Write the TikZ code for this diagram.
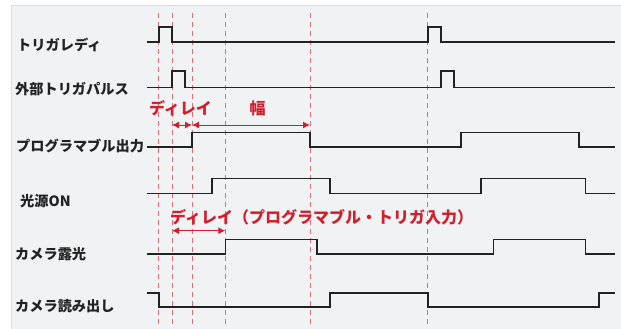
\documentclass[tikz,border=0pt]{standalone}
\usepackage{fontspec}
\newfontfamily\jpfont{Noto Sans CJK JP}
\usetikzlibrary{arrows.meta}
\definecolor{panelgray}{HTML}{F1F2F4}
\definecolor{framegray}{HTML}{DCDDE0}
\definecolor{markred}{HTML}{D11F2E}
\definecolor{dashred}{HTML}{E06C78}
\definecolor{sigblack}{HTML}{222222}
\tikzset{
  siglabel/.style={anchor=west,inner sep=0pt,text=sigblack,font=\jpfont\bfseries\fontsize{14.2}{16}\selectfont},
  redlabel/.style={inner sep=0pt,text=markred,font=\jpfont\bfseries\fontsize{16}{18}\selectfont},
  signal/.style={draw=sigblack,line width=1.6pt,line join=miter},
  timeline/.style={draw=dashred,line width=1pt,dash pattern=on 5pt off 4pt},
  span/.style={draw=markred,line width=1pt,{Latex[length=7pt,width=7pt]}-{Latex[length=7pt,width=7pt]}}
}

\begin{document}
\begin{tikzpicture}[x=1pt,y=-1pt]
\useasboundingbox (0,0) rectangle (621,329);
\fill[white] (0,0) rectangle (621,329);
\filldraw[fill=panelgray,draw=framegray,line width=1pt] (11,6) -- (11,340) -- (630,340) -- (630,6) -- cycle;

% time marks
\foreach \tx in {158.7,172,192,225.3,310,427.7}
  \draw[timeline] (\tx,13) -- (\tx,326);

% labels
\node[siglabel] (ready) at (17,45) {トリガレディ};
\node[siglabel] (extpulse) at (15,89.5) {外部トリガパルス};
\node[siglabel] (progout) at (16,146) {プログラマブル出力};
\node[siglabel] (lighton) at (20,201.5) {光源ON};
\node[siglabel] (expose) at (15,254) {カメラ露光};
\node[siglabel] (readout) at (15,306) {カメラ読み出し};

% signals
\draw[signal] (146.7,42) -- (158.7,42) -- (158.7,27.3) -- (172,27.3) -- (172,42) -- (427.7,42) -- (427.7,27.3) -- (441,27.3) -- (441,42) -- (615,42);
\draw[signal] (146.7,87.3) -- (172,87.3) -- (172,71.3) -- (185,71.3) -- (185,87.3) -- (441,87.3) -- (441,71.3) -- (454,71.3) -- (454,87.3) -- (615,87.3);
\draw[signal] (146.7,146.7) -- (192,146.7) -- (192,132.3) -- (310,132.3) -- (310,146.7) -- (460.7,146.7) -- (460.7,132.3) -- (578.7,132.3) -- (578.7,146.7) -- (615,146.7);
\draw[signal] (146.7,193.3) -- (211.7,193.3) -- (211.7,178.3) -- (330,178.3) -- (330,193.3) -- (480.7,193.3) -- (480.7,178.3) -- (585.3,178.3) -- (585.3,193.3) -- (615,193.3);
\draw[signal] (146.7,254) -- (225.3,254) -- (225.3,239.3) -- (316.7,239.3) -- (316.7,254) -- (493.3,254) -- (493.3,239.3) -- (585.3,239.3) -- (585.3,254) -- (615,254);
\draw[signal] (146.7,292.7) -- (158.7,292.7) -- (158.7,306.7) -- (330,306.7) -- (330,292.7) -- (427.7,292.7) -- (427.7,306.7) -- (598.7,306.7) -- (598.7,292.7) -- (615,292.7);

% delays and width
\node[redlabel] (delay) at (180.5,108.5) {ディレイ};
\node[redlabel] (width) at (257.5,108.5) {幅};
\node[redlabel,anchor=west] (progdelay) at (170,217) {ディレイ（プログラマブル・トリガ入力）};
\coordinate (trig) at (172,125);
\coordinate (rise) at (192,125);
\coordinate (fall) at (310,125);
\coordinate (dstart) at (172,230.7);
\coordinate (dend) at (225.3,230.7);
\draw[span] (trig) -- (rise);
\draw[span] (rise) -- (fall);
\draw[span] (dstart) -- (dend);

\end{tikzpicture}
\end{document}
